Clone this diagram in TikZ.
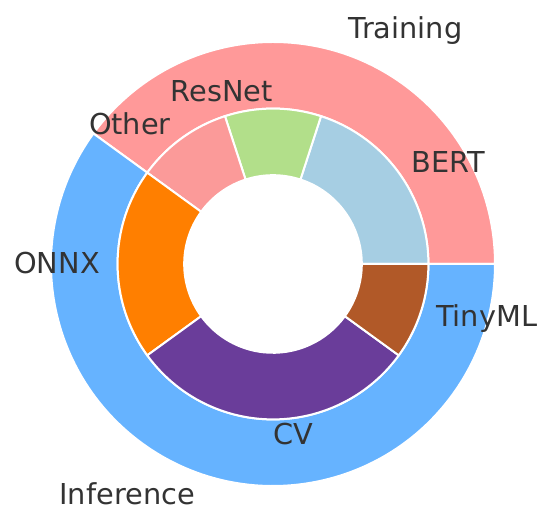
\documentclass[tikz,border=0pt]{standalone}
\usepackage{fontspec}
\setmainfont{DejaVu Sans}
\definecolor{txt}{HTML}{333333}
\definecolor{training}{HTML}{FF9999}
\definecolor{inference}{HTML}{66B3FF}
\definecolor{bert}{HTML}{A6CEE3}
\definecolor{resnet}{HTML}{B2DF8A}
\definecolor{other}{HTML}{FB9A99}
\definecolor{onnx}{HTML}{FF7F00}
\definecolor{cv}{HTML}{6A3D9A}
\definecolor{tinyml}{HTML}{B15928}
% annular wedge: colour, start angle, end angle, inner radius, outer radius
\newcommand\ringwedge[5]{%
  \filldraw[wedge, fill=#1]
    (#2:#5) arc[start angle=#2, end angle=#3, radius=#5]
    -- (#3:#4) arc[start angle=#3, end angle=#2, radius=#4] -- cycle;}
\tikzset{
  wedge/.style={draw=white, line width=2pt, line join=miter},
  lbl/.style={text=txt, font=\fontsize{28.8}{32}\selectfont, inner sep=0pt, anchor=base west},
  lblr/.style={lbl, anchor=base east},
}
\begin{document}
\begin{tikzpicture}[x=1pt,y=1pt]
\useasboundingbox (-273,-246) rectangle (268,264);
% outer ring: radius 222, width 0.3
\ringwedge{training}{0}{144}{155.4}{222}
\ringwedge{inference}{144}{360}{155.4}{222}
% inner ring: radius 155.4, width 0.3
\ringwedge{bert}{0}{72}{88.8}{155.4}
\ringwedge{resnet}{72}{108}{88.8}{155.4}
\ringwedge{other}{108}{144}{88.8}{155.4}
\ringwedge{onnx}{144}{216}{88.8}{155.4}
\ringwedge{cv}{216}{324}{88.8}{155.4}
\ringwedge{tinyml}{324}{360}{88.8}{155.4}
% labels, set on their baselines
\node[lbl]  (training)  at (75.5,225)     {Training};
\node[lblr] (inference) at (-78,-240.5)   {Inference};
\node[lbl]  (bert)      at (138.3,91)     {BERT};
\node[lblr] (resnet)    at (0,162)        {ResNet};
\node[lblr] (other)     at (-102,129)     {Other};
\node[lblr] (onnx)      at (-173,-10)     {ONNX};
\node[lbl]  (cvl)       at (0,-181)       {CV};
\node[lbl]  (tinyml)    at (163,-62.8)    {TinyML};
\end{tikzpicture}
\end{document}
